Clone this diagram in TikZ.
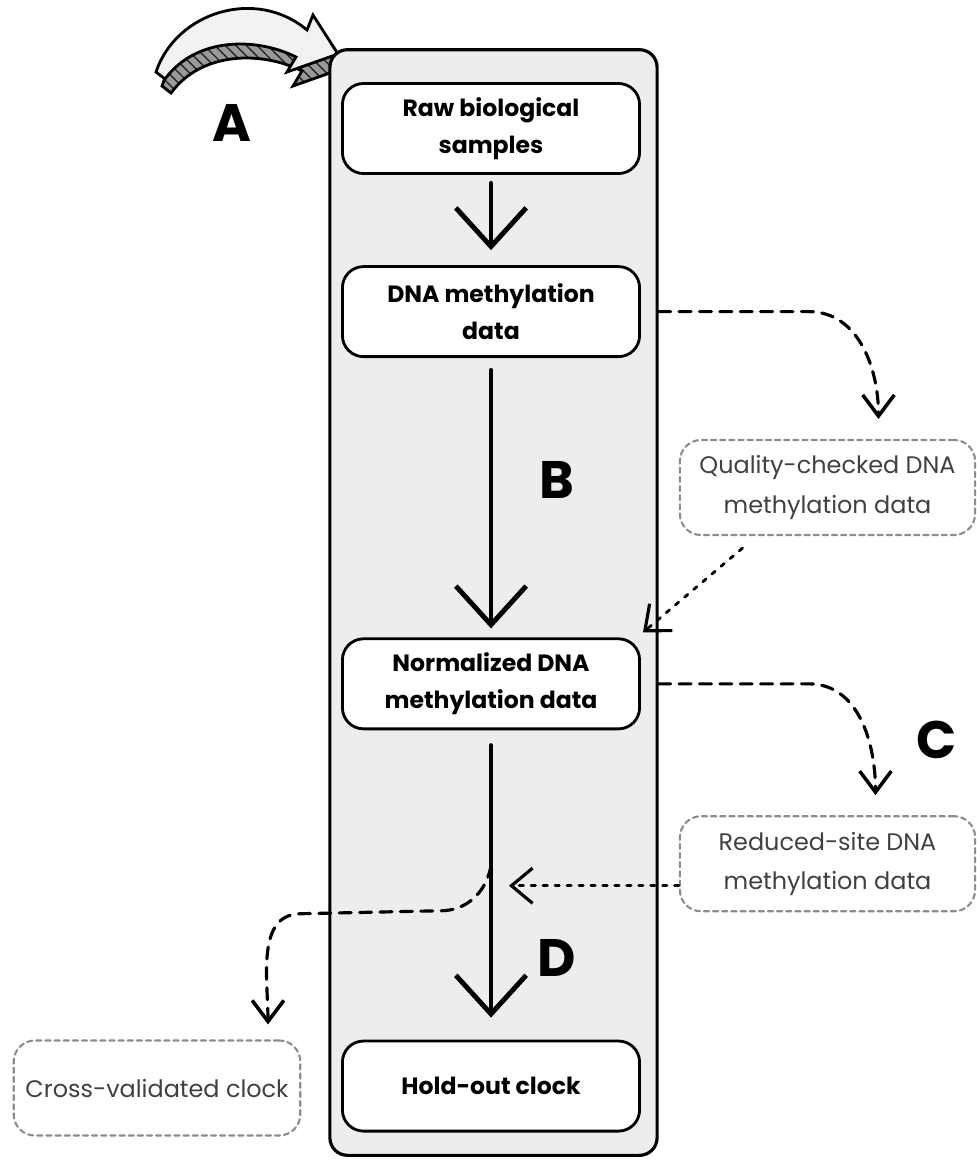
\documentclass[tikz,border=0pt]{standalone}
\usepackage{fontspec}
\setmainfont{Poppins}
\usetikzlibrary{arrows.meta,patterns,calc}

\begin{document}
\begin{tikzpicture}[x=0.01cm,y=0.01cm,line cap=round,
panel/.style={draw,line width=0.9pt,fill=black!7,rounded corners=5pt,minimum width=3.27cm,minimum height=11.05cm},
box/.style={draw,line width=0.8pt,fill=white,rounded corners=6pt,minimum width=2.97cm,minimum height=0.9cm,align=center,font=\fontsize{6.7}{10.6}\selectfont\bfseries},
sidebox/.style={draw=black!45,dash pattern=on 1.5pt off 1.1pt,line width=0.6pt,rounded corners=6pt,minimum width=2.95cm,minimum height=0.95cm,align=center,text=black!75,font=\fontsize{6.8}{11.2}\selectfont},
letter/.style={font=\fontsize{15}{15}\selectfont\bfseries},
flow/.style={line width=1.2pt,-{Straight Barb[length=11pt,width=20pt,line width=1.4pt]}},
dashflow/.style={line width=0.9pt,dash pattern=on 3.4pt off 2.4pt,-{Straight Barb[length=6pt,width=9pt,line width=1pt]}},
dotflow/.style={line width=0.8pt,dash pattern=on 1.2pt off 2.2pt,-{Straight Barb[length=6pt,width=10pt,line width=0.9pt]}},
ribbon/.pic={\path[pic actions](0,0) .. controls (20,60) and (100,85) .. (151,42)--(157,57)--(182,18)--(131,0)--(140,15) .. controls (100,35) and (40,35) .. (9,-7)--cycle;}]

\useasboundingbox (0,0) rectangle (977,-1160);

\pic[fill=black!40] at (162,-86) {ribbon};
\pic[draw,line width=0.8pt,pattern=north west lines,pattern color=black!85] at (162,-86) {ribbon};
\pic[draw,line width=0.8pt,fill=black!5] at (156,-72) {ribbon};

\node[panel](panel) at (493.5,-602.5){};

\node[box](raw) at (491,-128.5){Raw biological\\samples};
\node[box](dna)[below of=raw,node distance=1.83cm]{DNA methylation\\data};
\node[box](norm)[below of=dna,node distance=3.72cm]{Normalized DNA\\methylation data};
\node[box](holdout)[below of=norm,node distance=4.02cm]{Hold-out clock};

\node[sidebox](qc) at (827.5,-487.5){Quality-checked DNA\\methylation data};
\node[sidebox](reduced)[below of=qc,node distance=3.76cm]{Reduced-site DNA\\methylation data};
\node[sidebox,minimum width=2.86cm](cv) at (157,-1088){Cross-validated clock};

\node[letter](labA) at (232,-123){A};
\node[letter](labB) at (557,-480){B};
\node[letter](labC) at (937,-740){C};
\node[letter](labD) at (557,-958){D};

\draw[flow,shorten <=0.08cm,shorten >=0.15cm](raw)--(dna);
\draw[flow,shorten <=0.12cm,shorten >=0.09cm](dna)--(norm);
\draw[flow,shorten <=0.15cm,shorten >=0.22cm](norm)--(holdout);

\draw[dashflow](dna.east-|panel.east)--++(150,0) to[out=0,in=90] ($(qc.north)+(51,20)$);
\draw[dotflow]($(qc.south)+(-85,-12)$)--($(norm.north east)+(2,5)$);
\draw[dashflow](norm.east-|panel.east)--++(150,0) to[out=0,in=90] ($(reduced.north)+(48,20)$);
\draw[dotflow]($(reduced.west)+(0,-22)$)--($(norm.south|-reduced.west)+(18,-22)$);
\draw[dashflow]($(norm.south|-reduced.west)+(0,-2)$) to[out=260,in=0] ++(-50,-45)--++(-140,-3) to[out=180,in=90] ($(cv.north)+(111,15)$);

\end{tikzpicture}
\end{document}
